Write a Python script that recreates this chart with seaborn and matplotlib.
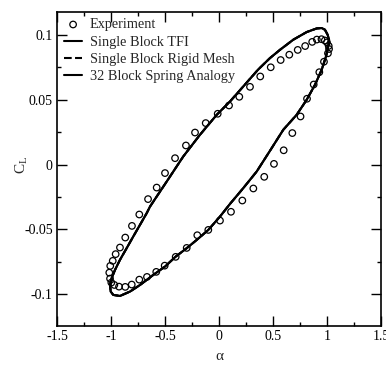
import matplotlib
matplotlib.use("Agg")
import matplotlib.pyplot as plt
from matplotlib.ticker import MultipleLocator, FormatStrFormatter
import pandas as pd
import seaborn as sns

# experiment
expAlpha = [-1.016, -1.007, -0.984, -0.957, -0.917, -0.868, -0.806, -0.738, -0.657, -0.577,
            -0.500, -0.407, -0.306, -0.222, -0.123, -0.012, 0.093, 0.188, 0.287, 0.382,
            0.479, 0.571, 0.651, 0.729, 0.798, 0.863, 0.906, 0.949, 0.980, 1.000,
            1.016, 1.019, 1.009, 0.972, 0.929, 0.877, 0.815, 0.755, 0.679, 0.599,
            0.509, 0.419, 0.318, 0.216, 0.111, 0.009, -0.099, -0.201, -0.299, -0.401,
            -0.503, -0.581, -0.667, -0.738, -0.808, -0.868, -0.926, -0.969, -0.997, -1.009]
expCL = [-0.0835, -0.0783, -0.0744, -0.0692, -0.0641, -0.0564, -0.0474, -0.0386, -0.0267, -0.0178,
         -0.0066, 0.0049, 0.0147, 0.0247, 0.0320, 0.0392, 0.0456, 0.0523, 0.0600, 0.0680,
         0.0751, 0.0807, 0.0848, 0.0885, 0.0915, 0.0947, 0.0965, 0.0968, 0.0958, 0.0943,
         0.0916, 0.0892, 0.0859, 0.0794, 0.0713, 0.0618, 0.0508, 0.0371, 0.0243, 0.0110,
         0.0005, -0.0095, -0.0185, -0.0278, -0.0365, -0.0433, -0.0505, -0.0546, -0.0644, -0.0713,
         -0.0781, -0.0829, -0.0868, -0.0889, -0.0927, -0.0945, -0.0943, -0.0930, -0.0912, -0.0881]

# computed loop (the three methods lie on top of each other)
simAlpha = [-1.009, -0.994, -0.963, -0.917, -0.855, -0.794, -0.731, -0.669, -0.639, -0.484,
            -0.331, -0.176, -0.021, 0.102, 0.225, 0.361, 0.472, 0.565, 0.688, 0.812,
            0.905, 0.951, 0.981, 1.006, 1.019, 1.012, 0.991, 0.951, 0.889, 0.812,
            0.719, 0.595, 0.472, 0.349, 0.225, 0.102, 0.009, -0.099, -0.206, -0.299,
            -0.401, -0.500, -0.608, -0.731, -0.824, -0.917, -0.979, -1.003, -1.009]
simCL = [-0.0930, -0.0878, -0.0814, -0.0736, -0.0646, -0.0556, -0.0465, -0.0375, -0.0325, -0.0131,
         0.0062, 0.0230, 0.0384, 0.0487, 0.0603, 0.0732, 0.0822, 0.0886, 0.0964, 0.1023,
         0.1051, 0.1054, 0.1041, 0.1002, 0.0964, 0.0912, 0.0835, 0.0732, 0.0616, 0.0500,
         0.0384, 0.0268, 0.0106, -0.0054, -0.0182, -0.0304, -0.0402, -0.0505, -0.0582, -0.0646,
         -0.0711, -0.0788, -0.0852, -0.0930, -0.0981, -0.1015, -0.1007, -0.0981, -0.0930]

sns.set_style("ticks")
plt.rcParams["font.family"] = ["Liberation Serif", "DejaVu Serif"]
plt.rcParams["axes.unicode_minus"] = False

expDF = pd.DataFrame({"alpha": expAlpha, "CL": expCL})
simDF = pd.DataFrame({"alpha": simAlpha, "CL": simCL})

fig = plt.figure(figsize=(3.86, 3.71), dpi=100)
ax = fig.add_axes([0.1477, 0.1213, 0.8393, 0.8464])

sns.lineplot(x="alpha", y="CL", data=simDF, sort=False, estimator=None, ax=ax,
             color="black", lw=1.5, linestyle="--", label="Single Block Rigid Mesh")
sns.lineplot(x="alpha", y="CL", data=simDF, sort=False, estimator=None, ax=ax,
             color="black", lw=1.5, label="Single Block TFI")
sns.lineplot(x="alpha", y="CL", data=simDF, sort=False, estimator=None, ax=ax,
             color="black", lw=1.5, label="32 Block Spring Analogy")
sns.scatterplot(x="alpha", y="CL", data=expDF, ax=ax, marker="o", s=22,
                facecolor="none", edgecolor="black", linewidth=0.9, label="Experiment")

ax.set_xlim(-1.5, 1.5)
ax.set_ylim(-0.1247, 0.1178)
ax.xaxis.set_major_locator(MultipleLocator(0.5))
ax.xaxis.set_minor_locator(MultipleLocator(0.25))
ax.yaxis.set_major_locator(MultipleLocator(0.05))
ax.yaxis.set_minor_locator(MultipleLocator(0.025))
ax.xaxis.set_major_formatter(FormatStrFormatter("%g"))
ax.yaxis.set_major_formatter(FormatStrFormatter("%g"))

ax.tick_params(which="both", direction="in", labelsize=10, width=1, colors="black")
ax.tick_params(which="major", length=7, pad=3)
ax.tick_params(which="minor", length=3)
ax.tick_params(which="both", top=True, right=True)
for s in ax.spines.values():
    s.set_linewidth(1.2)
    s.set_color("black")

ax.set_xlabel("α", fontsize=11)
ax.set_ylabel("C$_\\mathregular{L}$", fontsize=11)
ax.xaxis.set_label_coords(0.5, -0.078)
ax.yaxis.set_label_coords(-0.083, 0.513)

h, l = ax.get_legend_handles_labels()
order = ["Experiment", "Single Block TFI", "Single Block Rigid Mesh", "32 Block Spring Analogy"]
hd = dict(zip(l, h))
ax.legend([hd[k] for k in order], order, loc="upper left", frameon=False, fontsize=10.3,
          handlelength=1.3, handletextpad=0.5, labelspacing=0.3,
          bbox_to_anchor=(-0.01, 1.012), borderaxespad=0.3)

fig.savefig("out.png", dpi=100)
